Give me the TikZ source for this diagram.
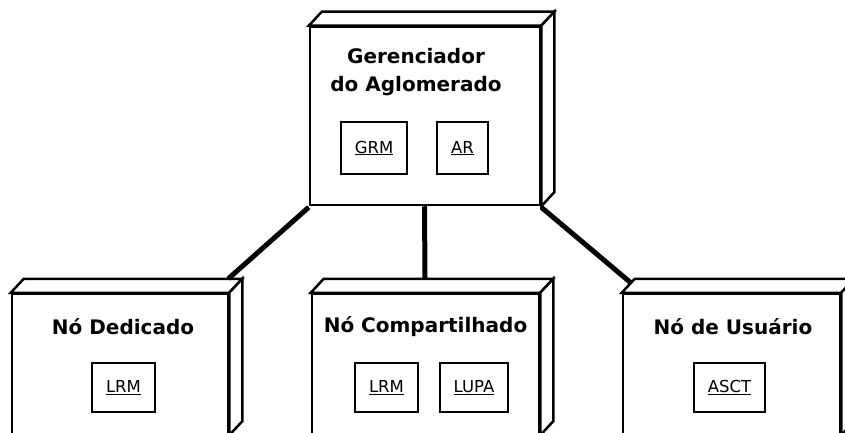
\documentclass[tikz,border=0pt]{standalone}
\usepackage{fontspec}
\setmainfont{DejaVu Sans}
\begin{document}
\begin{tikzpicture}[x=1pt,y=-1pt,
  frontbox/.style={draw, line width=2.5pt, fill=white, inner sep=0pt},
  boxline/.style={draw, line width=2.5pt, line join=miter, fill=white},
  inbox/.style={draw, line width=2.7pt, fill=white, inner sep=0pt, font=\fontsize{16.5}{20}\selectfont},
  title/.style={font=\bfseries\fontsize{20}{28}\selectfont, align=center, inner sep=0pt},
  link/.style={line width=5pt}]
\useasboundingbox (0,0) rectangle (845,433);
\clip (0,0) rectangle (845,433);
% front faces
\node[frontbox, minimum width=230pt, minimum height=178pt] (gm) at (425,116) {};
\node[frontbox, minimum width=216pt, minimum height=140pt] (nd) at (120,364) {};
\node[frontbox, minimum width=227pt, minimum height=140pt] (nc) at (425.5,364) {};
\node[frontbox, minimum width=217pt, minimum height=140pt] (nu) at (731.5,364) {};
% depth faces
\foreach \n in {gm,nd,nc,nu}{
  \draw[boxline] (\n.north west) -- ([shift={(13,-14)}]\n.north west)
     -- ([shift={(13,-14)}]\n.north east) -- (\n.north east) -- cycle;
  \draw[boxline] (\n.north east) -- ([shift={(13,-14)}]\n.north east)
     -- ([shift={(13,-14)}]\n.south east) -- (\n.south east) -- cycle;
}
% titles
\node[title] (gmt) at (416,72) {Gerenciador\\do Aglomerado};
\node[title] (ndt) at (123,327) {Nó Dedicado};
\node[title] (nct) at (425.5,327) {Nó Compartilhado};
\node[title] (nut) at (733,327) {Nó de Usuário};
% inner components
\node[inbox, minimum width=66pt, minimum height=52pt] (grm) at (374,148) {\underline{GRM}};
\node[inbox, minimum width=51pt, minimum height=52pt] (ar) at (462.5,148) {\underline{AR}};
\node[inbox, minimum width=63pt, minimum height=49pt] (lrm1) at (123.5,387.5) {\underline{LRM}};
\node[inbox, minimum width=63pt, minimum height=49pt] (lrm2) at (386.5,387.5) {\underline{LRM}};
\node[inbox, minimum width=68pt, minimum height=49pt] (lupa) at (474,387.5) {\underline{LUPA}};
\node[inbox, minimum width=71pt, minimum height=49pt] (asct) at (729.5,387.5) {\underline{ASCT}};
% connector end points
\coordinate (ndtop) at ([shift={(-1,-14)}]nd.north east);
\coordinate (nctop) at ([shift={(-0.5,-14)}]nc.north);
\coordinate (nutop) at ([shift={(9,-10)}]nu.north west);
\draw[link] ([shift={(0,1)}]gm.south west) -- (ndtop);
\draw[link] ([shift={(-0.5,0)}]gm.south) -- (nctop);
\draw[link] ([shift={(0,1)}]gm.south east) -- (nutop);
\end{tikzpicture}
\end{document}
